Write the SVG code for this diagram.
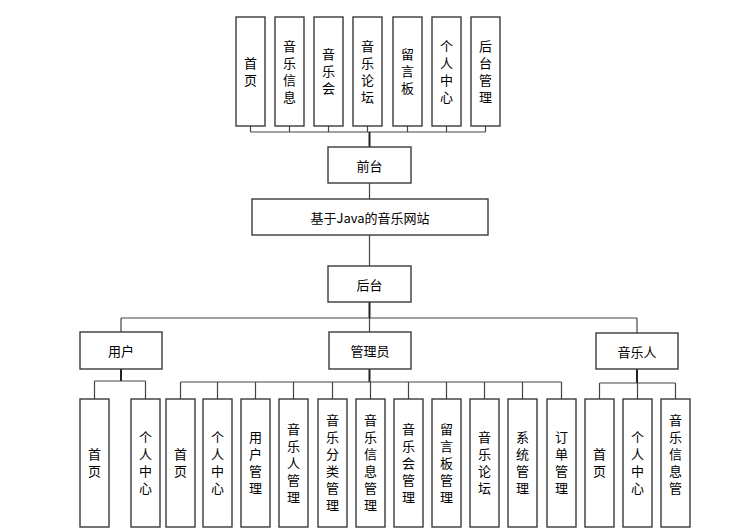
<svg xmlns="http://www.w3.org/2000/svg" width="733" height="532" viewBox="0 0 733 532">
<style>
rect{fill:#fff;stroke:#3a3a3a;stroke-width:1.4}
text{font-family:"Noto Sans CJK SC","Noto Sans",sans-serif;font-size:13px;fill:#000;text-anchor:middle;dominant-baseline:central}
text.v{writing-mode:vertical-rl;letter-spacing:4px}
.c line{stroke:#444;stroke-width:1.2}
.c .t{stroke:#222;stroke-width:2}
</style>
<rect x="0" y="0" width="733" height="532" style="fill:#fff;stroke:none"/>
<g class="c" id="connectors">
<line x1="250.5" y1="132" x2="485.5" y2="132"/>
<line x1="250.5" y1="126" x2="250.5" y2="132"/>
<line x1="289.5" y1="126" x2="289.5" y2="132"/>
<line x1="328.5" y1="126" x2="328.5" y2="132"/>
<line x1="367.5" y1="126" x2="367.5" y2="132"/>
<line x1="407.5" y1="126" x2="407.5" y2="132"/>
<line x1="446.5" y1="126" x2="446.5" y2="132"/>
<line x1="485.5" y1="126" x2="485.5" y2="132"/>
<line class="t" x1="369.5" y1="132" x2="369.5" y2="147"/>
<line x1="369.5" y1="183" x2="369.5" y2="199"/>
<line x1="369.5" y1="235" x2="369.5" y2="266"/>
<line class="t" x1="369.5" y1="302" x2="369.5" y2="318"/>
<line x1="121" y1="318" x2="637" y2="318"/>
<line x1="121" y1="318" x2="121" y2="332"/>
<line x1="369.5" y1="318" x2="369.5" y2="332"/>
<line x1="637" y1="318" x2="637" y2="333"/>
<line class="t" x1="121" y1="369" x2="121" y2="381"/>
<line x1="94.5" y1="381" x2="145.5" y2="381"/>
<line x1="94.5" y1="381" x2="94.5" y2="399"/>
<line x1="145.5" y1="381" x2="145.5" y2="399"/>
<line class="t" x1="369.5" y1="369" x2="369.5" y2="382"/>
<line x1="180.5" y1="382" x2="561.5" y2="382"/>
<line x1="180.5" y1="382" x2="180.5" y2="399"/>
<line x1="217.5" y1="382" x2="217.5" y2="399"/>
<line x1="255.5" y1="382" x2="255.5" y2="399"/>
<line x1="293.5" y1="382" x2="293.5" y2="399"/>
<line x1="332.5" y1="382" x2="332.5" y2="399"/>
<line x1="370.5" y1="382" x2="370.5" y2="399"/>
<line x1="408.5" y1="382" x2="408.5" y2="399"/>
<line x1="446.5" y1="382" x2="446.5" y2="399"/>
<line x1="484.5" y1="382" x2="484.5" y2="399"/>
<line x1="522.5" y1="382" x2="522.5" y2="399"/>
<line x1="561.5" y1="382" x2="561.5" y2="399"/>
<line class="t" x1="637" y1="369" x2="637" y2="383"/>
<line x1="599.5" y1="383" x2="675.5" y2="383"/>
<line x1="599.5" y1="383" x2="599.5" y2="399"/>
<line x1="637.5" y1="383" x2="637.5" y2="399"/>
<line x1="675.5" y1="383" x2="675.5" y2="399"/>
</g>
<g id="f1"><rect x="236" y="17" width="29" height="109"/><text class="v" x="250.5" y="73.5">首页</text></g>
<g id="f2"><rect x="275" y="17" width="29" height="109"/><text class="v" x="289.5" y="73.5">音乐信息</text></g>
<g id="f3"><rect x="314" y="17" width="29" height="109"/><text class="v" x="328.5" y="73.5">音乐会</text></g>
<g id="f4"><rect x="353" y="17" width="29" height="109"/><text class="v" x="367.5" y="73.5">音乐论坛</text></g>
<g id="f5"><rect x="393" y="17" width="29" height="109"/><text class="v" x="407.5" y="73.5">留言板</text></g>
<g id="f6"><rect x="432" y="17" width="29" height="109"/><text class="v" x="446.5" y="73.5">个人中心</text></g>
<g id="f7"><rect x="471" y="17" width="29" height="109"/><text class="v" x="485.5" y="73.5">后台管理</text></g>
<g id="qiantai"><rect x="328" y="147" width="83" height="36"/><text x="369.5" y="165">前台</text></g>
<g id="root"><rect x="252" y="199" width="236" height="36"/><text x="370" y="217">基于Java的音乐网站</text></g>
<g id="houtai"><rect x="328" y="266" width="83" height="36"/><text x="369.5" y="284">后台</text></g>
<g id="user"><rect x="80" y="332" width="82" height="37"/><text x="121" y="350.5">用户</text></g>
<g id="admin"><rect x="329" y="332" width="82" height="37"/><text x="370" y="350.5">管理员</text></g>
<g id="musician"><rect x="596" y="333" width="82" height="36"/><text x="637" y="351">音乐人</text></g>
<g id="u1"><rect x="80" y="399" width="29" height="128"/><text class="v" x="94.5" y="465">首页</text></g>
<g id="u2"><rect x="131" y="399" width="29" height="128"/><text class="v" x="145.5" y="465">个人中心</text></g>
<g id="a1"><rect x="166" y="399" width="29" height="128"/><text class="v" x="180.5" y="465">首页</text></g>
<g id="a2"><rect x="203" y="399" width="29" height="128"/><text class="v" x="217.5" y="465">个人中心</text></g>
<g id="a3"><rect x="241" y="399" width="29" height="128"/><text class="v" x="255.5" y="465">用户管理</text></g>
<g id="a4"><rect x="279" y="399" width="29" height="128"/><text class="v" x="293.5" y="465">音乐人管理</text></g>
<g id="a5"><rect x="318" y="399" width="29" height="128"/><text class="v" x="332.5" y="465">音乐分类管理</text></g>
<g id="a6"><rect x="356" y="399" width="29" height="128"/><text class="v" x="370.5" y="465">音乐信息管理</text></g>
<g id="a7"><rect x="394" y="399" width="29" height="128"/><text class="v" x="408.5" y="465">音乐会管理</text></g>
<g id="a8"><rect x="432" y="399" width="29" height="128"/><text class="v" x="446.5" y="465">留言板管理</text></g>
<g id="a9"><rect x="470" y="399" width="29" height="128"/><text class="v" x="484.5" y="465">音乐论坛</text></g>
<g id="a10"><rect x="508" y="399" width="29" height="128"/><text class="v" x="522.5" y="465">系统管理</text></g>
<g id="a11"><rect x="547" y="399" width="29" height="128"/><text class="v" x="561.5" y="465">订单管理</text></g>
<g id="m1"><rect x="585" y="399" width="29" height="128"/><text class="v" x="599.5" y="465">首页</text></g>
<g id="m2"><rect x="623" y="399" width="29" height="128"/><text class="v" x="637.5" y="465">个人中心</text></g>
<g id="m3"><rect x="661" y="399" width="29" height="128"/><text class="v" x="675.5" y="456.5">音乐信息管</text></g>
</svg>
